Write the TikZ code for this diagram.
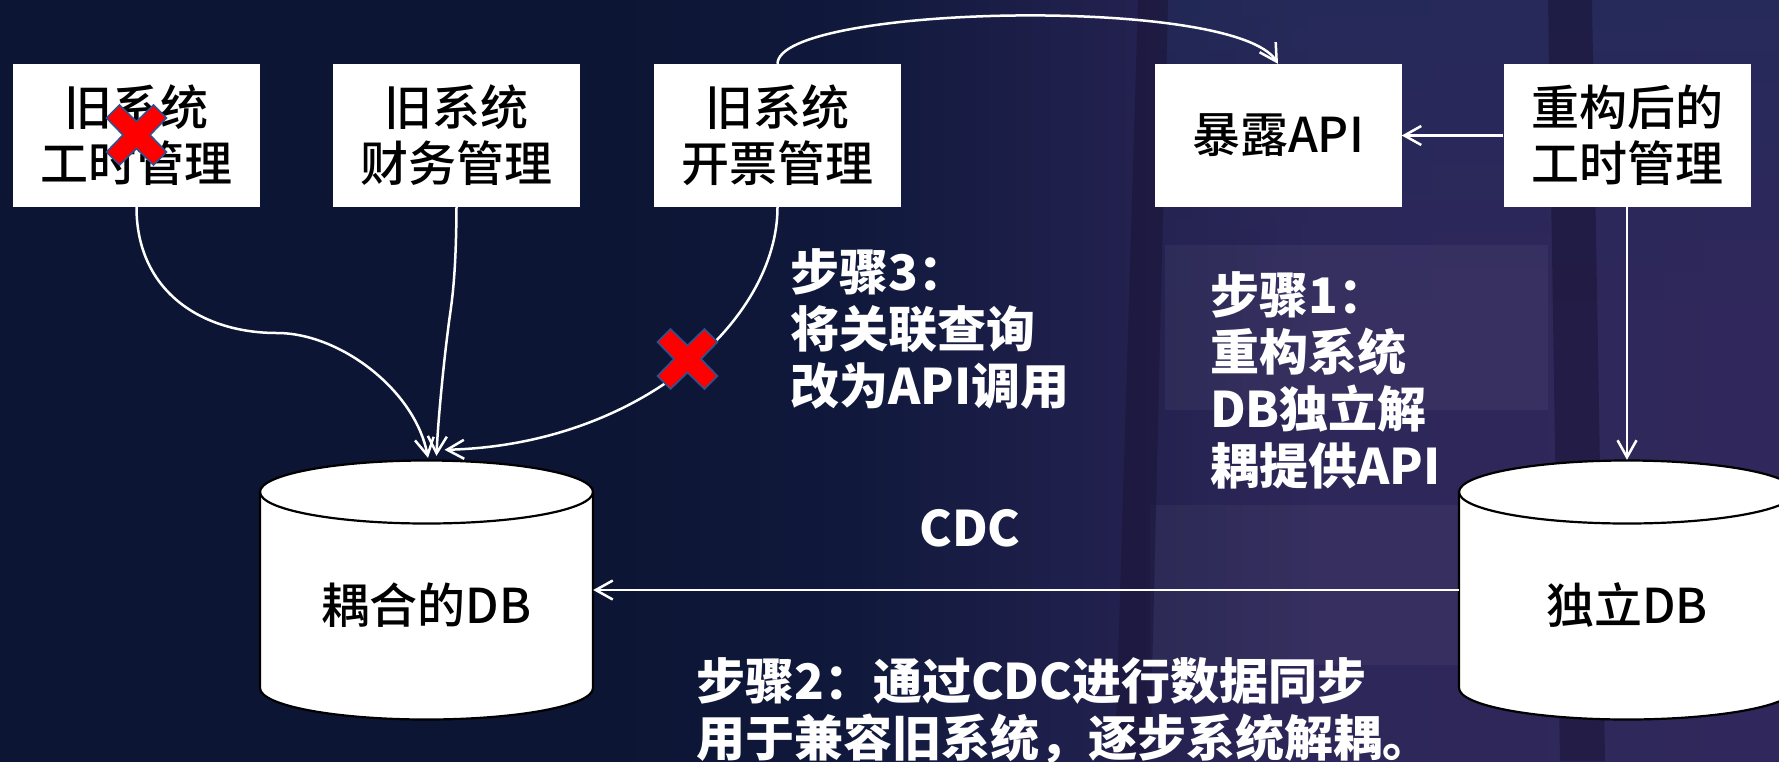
\documentclass[tikz,border=0pt]{standalone}
\usepackage{fontspec}
\newfontfamily\cjk{Noto Sans CJK SC}
\newfontfamily\cjkm{Noto Sans CJK SC}[UprightFont=* Medium]
\usetikzlibrary{arrows.meta,calc,fadings}
\definecolor{bgA}{HTML}{0C1533}
\definecolor{bgB}{HTML}{10193C}
\definecolor{bgC}{HTML}{1F1F4B}
\definecolor{bgD}{HTML}{2E2759}
\definecolor{bgE}{HTML}{30285C}
\definecolor{topblue}{HTML}{202C5A}
\definecolor{bandc}{HTML}{1A1538}
\definecolor{xblue}{HTML}{2F528F}
\pgfdeclarehorizontalshading{bgshade}{100bp}{color(0bp)=(bgA); color(25bp)=(bgA); color(42bp)=(bgA); color(49bp)=(bgB); color(55bp)=(bgC); color(62bp)=(bgD); color(75bp)=(bgE); color(100bp)=(bgE)}
\begin{document}
\begin{tikzpicture}[x=1pt,y=-1pt,
  box/.style={fill=white, minimum width=247pt, minimum height=143pt, inner sep=0pt, align=center, text=black, font=\cjkm\fontsize{48pt}{56pt}\selectfont},
  dbtext/.style={inner sep=0pt, text=black, font=\cjkm\fontsize{48pt}{56pt}\selectfont},
  lbl/.style={text=white, inner sep=0pt, align=left, font=\cjk\bfseries\fontsize{49pt}{57pt}\selectfont},
  conn/.style={draw=white, line width=2.5pt, -{Straight Barb[length=17pt,width=19pt]}},
  dbhold/.style={draw=none, inner sep=0pt, minimum height=260pt},
  cylsty/.style={fill=white, draw=black, line width=2.2pt},
  redx/.style={fill=red, draw=xblue, line width=1.6pt, line join=miter},
  xmark/.pic={\path[redx] (-30,-17) -- (-17,-30) -- (0,-13.5) -- (17,-30) -- (30,-17) -- (13.5,0) -- (30,17) -- (17,30) -- (0,13.5) -- (-17,30) -- (-30,17) -- (-13.5,0) -- cycle;}
]
\useasboundingbox (0,0) rectangle (1779,761);
% background
\shade[shading=bgshade] (0,0) rectangle (1779,761);
\fill[topblue, opacity=0.6, path fading=south] (1160,0) rectangle (1779,300);
\fill[white, opacity=0.045] (1165,245) rectangle (1548,410);
\fill[white, opacity=0.04] (1150,505) rectangle (1462,665);
\fill[bandc, opacity=0.6] (1138,0) -- (1168,0) -- (1150,761) -- (1115,761) -- cycle;
\fill[bandc, opacity=0.6] (1548,0) -- (1592,0) -- (1605,761) -- (1560,761) -- cycle;

% cylinders
\path[cylsty] (260,492) -- (260,688) arc[start angle=180,end angle=0,x radius=166.5,y radius=31.5] -- (593,492) arc[start angle=0,end angle=-180,x radius=166.5,y radius=31.5] -- cycle;
\draw[black, line width=2.2pt] (260,492) arc[start angle=180,end angle=0,x radius=166.5,y radius=31.5];
\path[cylsty] (1459,492) -- (1459,688) arc[start angle=180,end angle=0,x radius=168,y radius=31.5] -- (1795,492) arc[start angle=0,end angle=-180,x radius=168,y radius=31.5] -- cycle;
\draw[black, line width=2.2pt] (1459,492) arc[start angle=180,end angle=0,x radius=168,y radius=31.5];

\node[dbhold, minimum width=333pt] (c1) at (426.5,590) {};
\node[dbhold, minimum width=336pt] (c2) at (1627,590) {};
\node[dbtext] (c1t) at (426.5,605) {耦合的DB};
\node[dbtext] (c2t) at (1627,605) {独立DB};

% boxes
\node[box] (b1) at (136.5,135.5) {旧系统\\工时管理};
\node[box] (b2) at (456.5,135.5) {旧系统\\财务管理};
\node[box] (b3) at (777.5,135.5) {旧系统\\开票管理};
\node[box] (b4) at (1278,135.5) {暴露API};
\node[box] (b5) at (1627,135.5) {重构后的\\工时管理};

% connectors
\draw[conn] (b1.south) .. controls (136.5,290) and (200,333) .. (277,333) .. controls (340,333) and (415,390) .. ($(c1.north)+(1.5,-2)$);
\draw[conn] (b2.south) .. controls (456,290) and (450,310) .. (448,330) .. controls (444,360) and (438,420) .. ($(c1.north)+(10,-4)$);
\draw[conn] (b3.south) .. controls (777.5,320) and (640,445) .. ($(c1.north)+(18,-10)$);
\draw[conn] (b3.north) .. controls (778,5) and (1235,-5) .. (b4.north);
\draw[conn] (b5.west) -- (b4.east);
\draw[conn] (b5.south) -- (c2.north);
\draw[conn] (c2.west) -- (c1.east);

% red crosses
\pic at (136.5,135) {xmark};
\pic at (687.5,359) {xmark};

% labels
\node[lbl, anchor=west] (s3) at (790,329) {步骤3：\\将关联查询\\改为API调用};
\node[lbl, anchor=west] (s1) at (1210,380) {步骤1：\\重构系统\\DB独立解\\耦提供API};
\node[lbl, anchor=west] (s2) at (696,711) {步骤2：通过CDC进行数据同步\\用于兼容旧系统，逐步系统解耦。};
\node[lbl] (cdc) at (970,528) {CDC};
\end{tikzpicture}
\end{document}
